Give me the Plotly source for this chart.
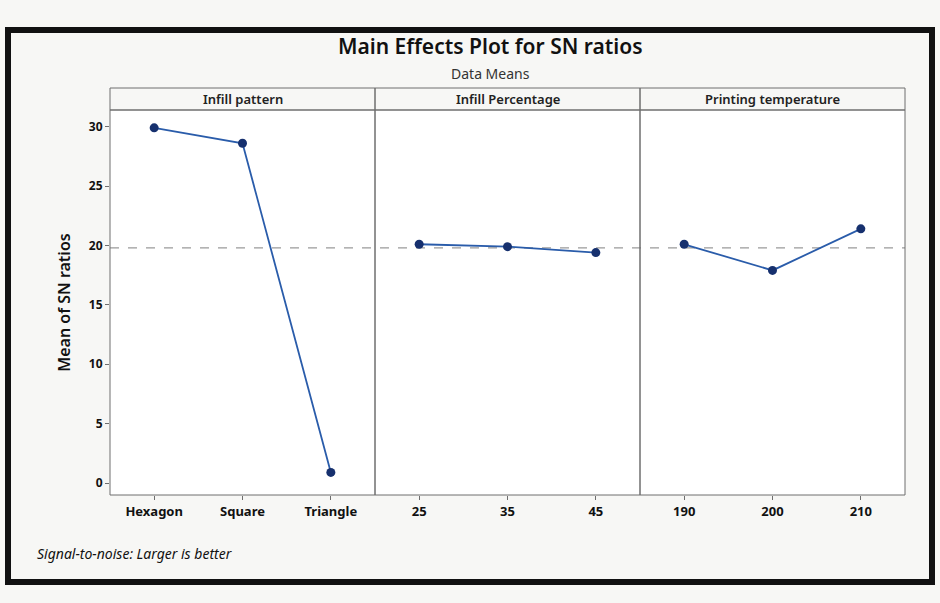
import plotly.graph_objects as go

# Main effects of each factor on the mean signal-to-noise ratio
pattern_levels = ["Hexagon", "Square", "Triangle"]
pattern_sn = [29.9, 28.6, 0.9]

percent_levels = ["25", "35", "45"]
percent_sn = [20.1, 19.9, 19.4]

temp_levels = ["190", "200", "210"]
temp_sn = [20.1, 17.9, 21.4]

panel_titles = ["Infill pattern", "Infill Percentage", "Printing temperature"]
y_ticks = [0, 5, 10, 15, 20, 25, 30]

W, H = 940, 603
FONT = "Noto Sans"
LINE = "#2a5caa"
MARK = "#16306e"
FRAME = "#6e6e6e"

panels = [(pattern_levels, pattern_sn), (percent_levels, percent_sn), (temp_levels, temp_sn)]
all_vals = pattern_sn + percent_sn + temp_sn
grand_mean = sum(all_vals) / len(all_vals)

# plot area in pixels
left_px, right_px = 110, 905
top_px, bottom_px = 110, 495
strip_px = 22
px_x = lambda p: p / W
px_y = lambda p: 1 - p / H

fig = go.Figure()
n = len(panels)
width = (right_px - left_px) / n
for i, (levels, vals) in enumerate(panels):
    xa = "x" if i == 0 else f"x{i+1}"
    axname = "xaxis" if i == 0 else f"xaxis{i+1}"
    fig.add_trace(go.Scatter(
        x=levels, y=vals, xaxis=xa, yaxis="y",
        mode="lines+markers",
        line=dict(color=LINE, width=1.8),
        marker=dict(color=MARK, size=9, symbol="circle"),
        showlegend=False, hoverinfo="x+y",
    ))
    x0 = left_px + i * width
    x1 = x0 + width
    fig.update_layout(**{axname: dict(
        domain=[px_x(x0), px_x(x1)],
        type="category", range=[-0.5, 2.5],
        showgrid=False, zeroline=False,
        showline=False, ticks="outside", ticklen=4, tickcolor=FRAME,
        tickfont=dict(family=FONT, size=13, color="#111111", weight="bold"),
        anchor="y", fixedrange=True,
    )})
    # panel frame
    fig.add_shape(type="rect", xref="paper", yref="paper",
                  x0=px_x(x0), x1=px_x(x1), y0=px_y(bottom_px), y1=px_y(top_px),
                  line=dict(color=FRAME, width=1), layer="above")
    # panel header strip
    fig.add_shape(type="rect", xref="paper", yref="paper",
                  x0=px_x(x0), x1=px_x(x1), y0=px_y(top_px), y1=px_y(top_px - strip_px),
                  line=dict(color=FRAME, width=1), fillcolor="rgba(0,0,0,0)")
    fig.add_annotation(text=panel_titles[i], xref="paper", yref="paper",
                       x=(px_x(x0) + px_x(x1)) / 2, y=px_y(top_px - strip_px / 2),
                       showarrow=False, xanchor="center", yanchor="middle",
                       font=dict(family=FONT, size=13, color="#222222", weight=600))

fig.update_layout(yaxis=dict(
    domain=[px_y(bottom_px), px_y(top_px)],
    range=[-1.0, 31.4], tickvals=y_ticks,
    showgrid=False, zeroline=False, showline=False,
    ticks="outside", ticklen=4, tickcolor=FRAME,
    tickfont=dict(family=FONT, size=12, color="#111111", weight="bold"),
    title=dict(text="Mean of SN ratios", font=dict(family=FONT, size=16, color="#111111", weight=600), standoff=14),
    anchor="x", fixedrange=True,
))

# grand mean reference line across all panels
fig.add_shape(type="line", xref="paper", yref="y",
              x0=px_x(left_px), x1=px_x(right_px), y0=grand_mean, y1=grand_mean,
              line=dict(color="#9a9a9a", width=1.2, dash="dash"), layer="below")

# outer border
fig.add_shape(type="rect", xref="paper", yref="paper",
              x0=px_x(8), x1=px_x(932), y0=px_y(582), y1=px_y(30),
              line=dict(color="#111111", width=6))

fig.add_annotation(text="Main Effects Plot for SN ratios", xref="paper", yref="paper",
                   x=px_x(490), y=px_y(46), showarrow=False, xanchor="center", yanchor="middle",
                   font=dict(family=FONT, size=21, color="#111111", weight=600))
fig.add_annotation(text="Data Means", xref="paper", yref="paper",
                   x=px_x(490), y=px_y(73), showarrow=False, xanchor="center", yanchor="middle",
                   font=dict(family=FONT, size=14, color="#333333"))
fig.add_annotation(text="<i>Signal-to-noise: Larger is better</i>", xref="paper", yref="paper",
                   x=px_x(35), y=px_y(553), showarrow=False, xanchor="left", yanchor="middle",
                   font=dict(family=FONT, size=14, color="#111111"))

fig.update_layout(
    width=W, height=H,
    margin=dict(l=0, r=0, t=0, b=0),
    paper_bgcolor="#f7f7f5", plot_bgcolor="#ffffff",
    font=dict(family=FONT),
)

fig.write_html("out.html")
